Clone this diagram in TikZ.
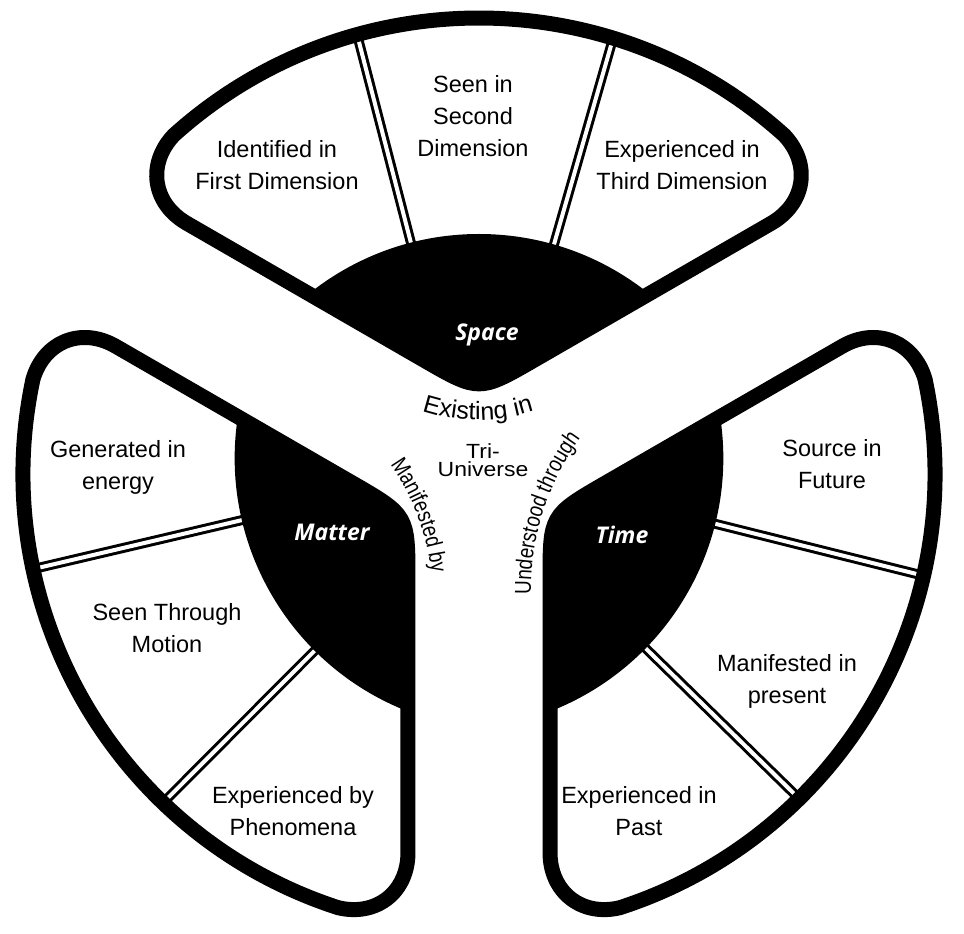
\documentclass[tikz,border=0pt]{standalone}
\usepackage{fontspec}
\setmainfont{Liberation Sans}
\newfontfamily\curvefamily{Liberation Sans}[FakeStretch=0.82]
\newfontfamily\widefamily{Liberation Sans}[FakeStretch=1.12]
\newfontfamily\hubfamily{Open Sans}
\usepackage{tikz}
\usetikzlibrary{calc}
\usetikzlibrary{decorations.text}

\newcommand{\curvefont}{\curvefamily\fontsize{23}{23}\selectfont}
\newcommand{\bladeoutline}{(a1) -- (r1) .. controls ($(r1)!0.55!(cR)$) and ($(r2)!0.55!(cR)$) .. (r2) arc[start angle=48, end angle=132, radius=456] .. controls ($(l2)!0.55!(cL)$) and ($(l1)!0.55!(cL)$) .. (l1) -- (a2) .. controls (apex) .. (a1) -- cycle}

\begin{document}
\begin{tikzpicture}[x=1pt, y=1pt,
rim/.style={line width=15pt, line join=round},
divider/.style={line width=3pt, double=white, double distance=4pt},
sector/.style={align=center, inner sep=0pt, font=\fontsize{23.5}{32}\selectfont},
hub/.style={text=white, inner sep=0pt, font=\hubfamily\bfseries\itshape\fontsize{23}{28}\selectfont}]
\fill[white] (-479,-460) rectangle (485,474);
\useasboundingbox (-479,-460) rectangle (485,474);
\foreach \rot/\da/\db in {0/74/104.5, 120/73.2/105.1, -120/75.6/106}{
\begin{scope}[rotate=\rot]
\coordinate (apex) at (0,82);
\coordinate (cR) at (38.96:456);
\coordinate (cL) at (141.04:456);
\coordinate (a1) at ($(apex)!65pt!(cR)$);
\coordinate (r1) at ($(cR)!72pt!(apex)$);
\coordinate (r2) at (48:456);
\coordinate (l2) at (132:456);
\coordinate (l1) at ($(cL)!72pt!(apex)$);
\coordinate (a2) at ($(apex)!65pt!(cL)$);
\begin{scope}
\clip \bladeoutline;
\draw[divider] (0,-32) -- ++(\da:520);
\draw[divider] (0,-32) -- ++(\db:520);
\fill (0,-32) circle (272);
\end{scope}
\draw[rim] \bladeoutline;
\end{scope}
}
\node[hub] (space) at (8,139) {Space};
\node[hub] (matter) at (-147,-58) {Matter};
\node[hub] (time) at (143,-61) {Time};
\node[sector] (first) at (-202,308.5) {Identified in\\First Dimension};
\node[sector] (second) at (-6,357.5) {Seen in\\Second\\Dimension};
\node[sector] (third) at (203,309) {Experienced in\\Third Dimension};
\node[sector] (energy) at (-361,7) {Generated in\\energy};
\node[sector] (motion) at (-312,-154) {Seen Through\\Motion};
\node[sector] (phenomena) at (-186,-337) {Experienced by\\Phenomena};
\node[sector] (future) at (353,10) {Source in\\Future};
\node[sector] (present) at (308,-207) {Manifested in\\present};
\node[sector] (past) at (160,-337) {Experienced in\\Past};
\node[align=center, inner sep=0pt, font=\widefamily\fontsize{20.5}{18}\selectfont] (tri) at (4,13.5) {Tri-\\Universe};
\path[decorate, decoration={text along path, text align=center, text={|\fontsize{25}{25}\selectfont|Existing in}}] (-1,234) ++(240:180) arc[start angle=240, end angle=300, radius=180];
\path[decorate, decoration={text along path, text={|\curvefont|Manifested by}}] (-282,-126) ++(35:236) arc[start angle=35, end angle=-10, radius=236];
\path[decorate, decoration={text along path, text={|\curvefont|Understood through}}] (309,-116) ++(181:257) arc[start angle=181, end angle=135, radius=257];
\end{tikzpicture}
\end{document}
